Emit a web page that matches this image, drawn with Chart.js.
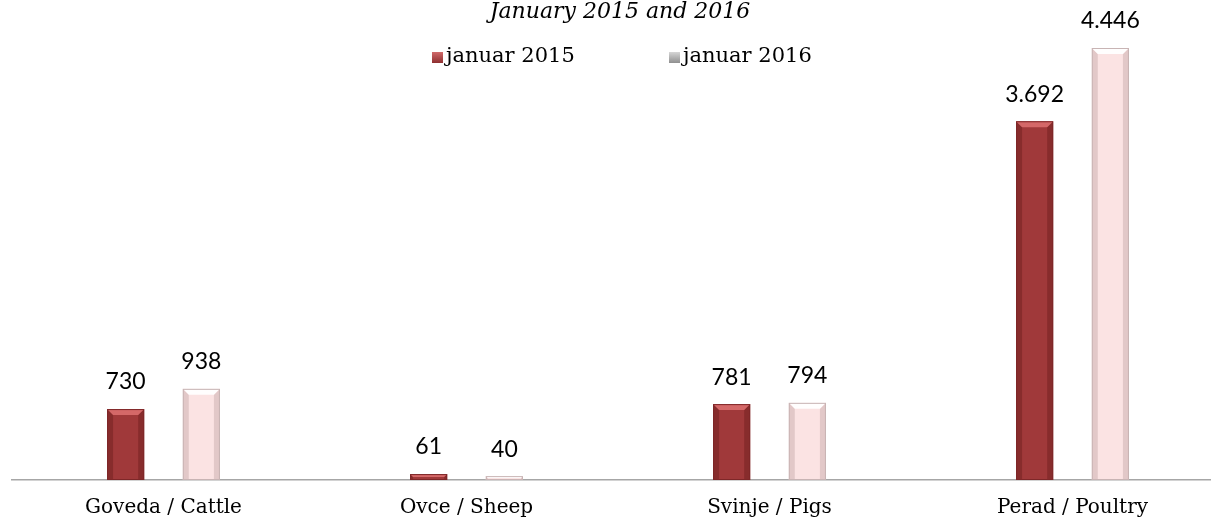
<!DOCTYPE html>
<html>
<head>
<meta charset="utf-8">
<script src="https://cdn.jsdelivr.net/npm/chart.js@4/dist/chart.umd.min.js"></script>
<style>
  html, body { margin: 0; padding: 0; background: #fff; overflow: hidden; }
  #wrap { width: 1224px; height: 521px; }
</style>
</head>
<body>
<div id="wrap"><canvas id="c" width="1224" height="521"></canvas></div>
<script>
// Podaci
const categories = ['Goveda / Cattle', 'Ovce / Sheep', 'Svinje / Pigs', 'Perad / Poultry'];
const seriesLabels = ['januar 2015', 'januar 2016'];
const jan2015 = [730, 61, 781, 3692];
const jan2016 = [938, 40, 794, 4446];
const titleText = 'January 2015 and 2016';

const serif = '"DejaVu Serif", "Liberation Serif", serif';
const sans = 'Lato, "Open Sans", sans-serif';

// boje: [osnova, ivica, bočni rub, gornji rub]
const looks = [
    ['#a0393a', '#7e2728', 'rgba(90,20,20,0.35)', 'rgba(230,120,120,0.75)'],
    ['#fbe3e3', '#c8b4b4', 'rgba(170,140,140,0.30)', 'rgba(255,255,255,0.95)']
];

// formatiranje broja sa tačkom za hiljade
function fmt(v) {
    return String(v).replace(/\B(?=(\d{3})+(?!\d))/g, '.');
}

// reljefni izgled stubića (kao u Excelu)
function bevel(ctx, bar, look) {
    const w = bar.width, x0 = bar.x - w / 2, x1 = bar.x + w / 2;
    const y0 = bar.y, y1 = bar.base;
    const b = Math.min(6, (y1 - y0) / 2, w / 4);
    if (b <= 0) return;
    ctx.fillStyle = look[2];
    ctx.beginPath();
    ctx.moveTo(x0, y0); ctx.lineTo(x0 + b, y0 + b); ctx.lineTo(x0 + b, y1); ctx.lineTo(x0, y1);
    ctx.closePath(); ctx.fill();
    ctx.beginPath();
    ctx.moveTo(x1, y0); ctx.lineTo(x1 - b, y0 + b); ctx.lineTo(x1 - b, y1); ctx.lineTo(x1, y1);
    ctx.closePath(); ctx.fill();
    ctx.fillStyle = look[3];
    ctx.beginPath();
    ctx.moveTo(x0, y0); ctx.lineTo(x1, y0); ctx.lineTo(x1 - b, y0 + b); ctx.lineTo(x0 + b, y0 + b);
    ctx.closePath(); ctx.fill();
    ctx.strokeStyle = look[1];
    ctx.lineWidth = 1;
    ctx.strokeRect(x0 + 0.5, y0 + 0.5, w - 1, y1 - y0 - 1);
}

// naslov, legenda i vrijednosti iznad stubića
const extras = {
    id: 'extras',
    afterDatasetsDraw(chart) {
        const ctx = chart.ctx;
        ctx.save();
        chart.data.datasets.forEach((ds, i) => {
            chart.getDatasetMeta(i).data.forEach(bar => bevel(ctx, bar, looks[i]));
        });

        ctx.fillStyle = '#000';
        ctx.textAlign = 'center';
        ctx.textBaseline = 'middle';
        ctx.font = '23px ' + sans;
        chart.data.datasets.forEach((ds, i) => {
            const meta = chart.getDatasetMeta(i);
            meta.data.forEach((bar, j) => {
                ctx.fillText(fmt(ds.data[j]), bar.x, bar.y - 27);
            });
        });

        ctx.font = 'italic 22px ' + serif;
        ctx.fillText(titleText, 620, 12);

        // legenda
        const items = [[432, '#8e2f30', '#d06a6a'], [669, '#8f8f8f', '#d6d6d6']];
        ctx.textAlign = 'left';
        ctx.font = '21px ' + serif;
        items.forEach((it, i) => {
            const g = ctx.createLinearGradient(0, 52, 0, 63);
            g.addColorStop(0, it[2]);
            g.addColorStop(1, it[1]);
            ctx.fillStyle = g;
            ctx.fillRect(it[0], 52, 11, 11);
            ctx.fillStyle = '#000';
            ctx.fillText(seriesLabels[i], it[0] + 14, 57);
        });
        ctx.restore();
    }
};

new Chart(document.getElementById('c'), {
    type: 'bar',
    data: {
        labels: categories,
        datasets: [{
            label: seriesLabels[0],
            data: jan2015,
            backgroundColor: looks[0][0],
            borderWidth: 0,
            categoryPercentage: 0.5,
            barPercentage: 0.49
        }, {
            label: seriesLabels[1],
            data: jan2016,
            backgroundColor: looks[1][0],
            borderWidth: 0,
            categoryPercentage: 0.5,
            barPercentage: 0.49
        }]
    },
    options: {
        responsive: false,
        animation: false,
        layout: { padding: { left: 12, right: 0, top: 0, bottom: -15 } },
        plugins: {
            legend: { display: false },
            tooltip: { enabled: false }
        },
        scales: {
            x: {
                grid: { display: false, drawTicks: false },
                border: { display: true, color: '#a6a6a6', width: 1.5 },
                ticks: { color: '#000', font: { family: serif, size: 20 }, padding: 16 }
            },
            y: {
                display: false,
                min: 0,
                max: 4940
            }
        }
    },
    plugins: [extras]
});
</script>
</body>
</html>
